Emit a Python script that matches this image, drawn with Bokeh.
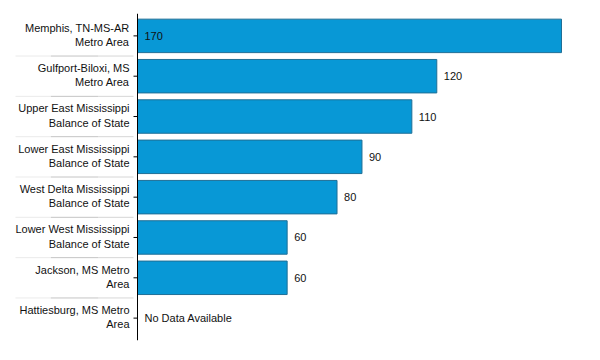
import numpy as np
from bokeh.plotting import figure
from bokeh.models import ColumnDataSource, FactorRange, Range1d, Span
from bokeh.core.properties import value
from bokeh.embed import file_html
from bokeh.resources import INLINE

# ---- data (top to bottom) ----
categories = [
    "Memphis, TN-MS-AR\nMetro Area",
    "Gulfport-Biloxi, MS\nMetro Area",
    "Upper East Mississippi\nBalance of State",
    "Lower East Mississippi\nBalance of State",
    "West Delta Mississippi\nBalance of State",
    "Lower West Mississippi\nBalance of State",
    "Jackson, MS Metro\nArea",
    "Hattiesburg, MS Metro\nArea",
]
values = [170, 120, 110, 90, 80, 60, 60, None]
no_data_text = "No Data Available"

# ---- layout constants ----
W, H = 584, 344
AXIS_PX = 137                # screen x of the value axis inside the frame
PX_PER_UNIT = 424 / 170      # horizontal scale
FONT = "Liberation Sans"
TXT = "#111111"

x_start = -AXIS_PX / PX_PER_UNIT
x_end = (W - AXIS_PX) / PX_PER_UNIT

p = figure(
    width=W, height=H,
    y_range=FactorRange(factors=categories[::-1], range_padding=0.055,
                        range_padding_units="absolute"),
    x_range=Range1d(x_start, x_end),
    x_axis_location=None, y_axis_location=None,
    output_backend="svg", toolbar_location=None,
    min_border_left=0, min_border_right=0, min_border_top=13, min_border_bottom=4,
)
p.outline_line_color = None
p.grid.visible = False
p.background_fill_color = "white"
p.border_fill_color = "white"

have = [v is not None for v in values]
bar_cats = [c for c, h in zip(categories, have) if h]
bar_vals = [v for v in values if v is not None]

# separators between categories (band boundaries, in synthetic coordinates)
n = len(categories)
bounds = list(range(1, n))
sep_x0 = -(AXIS_PX - 15) / PX_PER_UNIT
sep_x1 = -4 / PX_PER_UNIT
pieces = [(0.0, 0.3, 0.35), (0.3, 0.7, 1.0), (0.7, 1.0, 0.7)]
for a, b, alpha in pieces:
    p.segment(x0=[sep_x0 + (sep_x1 - sep_x0) * a] * len(bounds), x1=[sep_x0 + (sep_x1 - sep_x0) * b] * len(bounds),
              y0=bounds, y1=bounds, line_color="#c4c4c4", line_alpha=alpha, line_width=1)

# bars
src = ColumnDataSource(dict(cat=bar_cats, val=bar_vals))
p.hbar(y="cat", left=0, right="val", height=0.83, source=src,
       fill_color="#0898d6", line_color="#1f6f96", line_width=1)

# axis line and ticks
p.add_layout(Span(location=0, dimension="height", line_color="#000000", line_width=1))
p.ray(x=[0] * n, y=categories, length=4, length_units="screen", angle=np.pi,
      line_color="#000000", line_width=1)

# category labels
p.text(x=[0] * n, y=categories, text=categories, x_offset=-8, y_offset=-1,
       text_align="right", text_baseline="middle", text_font=value(FONT),
       text_font_size="11px", text_color=TXT, text_line_height=1.2)

# value labels (inside at the base when the bar would leave no room for the label)
lab_x = [0 if v > x_end - 20 else v for v in bar_vals]
p.text(x=lab_x, y=bar_cats, text=[str(v) for v in bar_vals], x_offset=7,
       text_align="left", text_baseline="middle", text_font=value(FONT),
       text_font_size="11px", text_color=TXT)

# no data labels
nd_cats = [c for c, h in zip(categories, have) if not h]
p.text(x=[0] * len(nd_cats), y=nd_cats, text=[no_data_text] * len(nd_cats), x_offset=7,
       text_align="left", text_baseline="middle", text_font=value(FONT),
       text_font_size="11px", text_color=TXT)

open("out.html", "w").write(file_html(p, INLINE))
